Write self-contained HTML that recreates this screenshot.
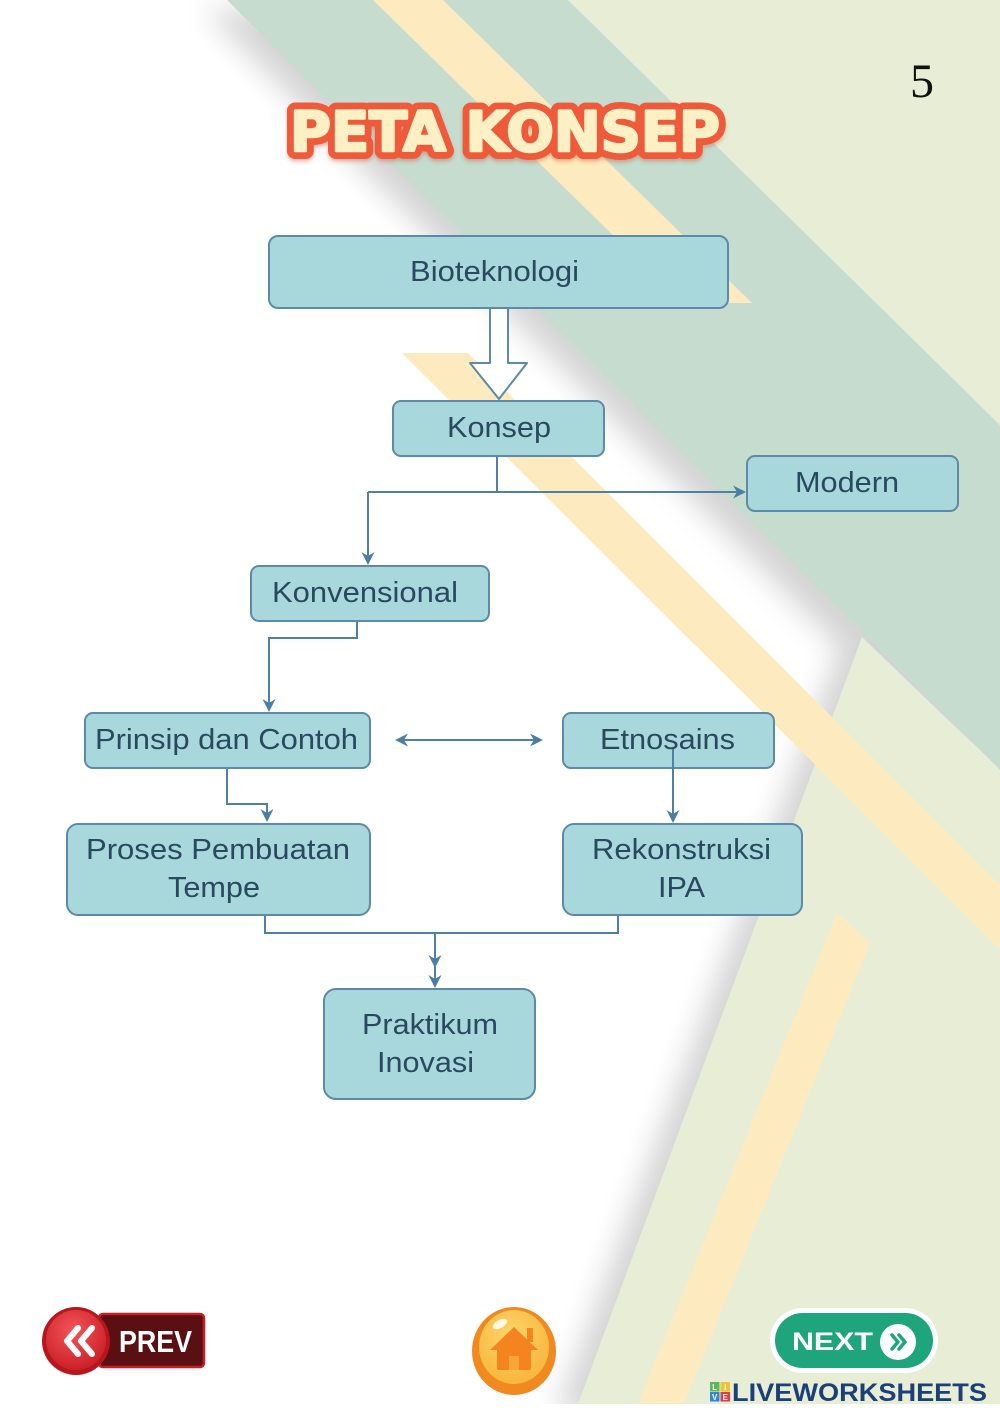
<!DOCTYPE html>
<html><head><meta charset="utf-8"><style>
html,body{margin:0;padding:0;background:#fff;}
svg{display:block;}
</style></head><body>
<svg width="1000" height="1415" viewBox="0 0 1000 1415" xmlns="http://www.w3.org/2000/svg">
<defs>
<filter id="blur" x="-20%" y="-20%" width="140%" height="140%"><feGaussianBlur stdDeviation="14"/></filter>
<filter id="tblur" x="-10%" y="-30%" width="120%" height="160%"><feGaussianBlur stdDeviation="2"/></filter>
<marker id="ar" viewBox="0 0 13 13" refX="10" refY="6.5" markerWidth="13" markerHeight="13" markerUnits="userSpaceOnUse" orient="auto-start-reverse">
<path d="M0,0 L13,6.5 L0,13 L4,6.5 Z" fill="#4a7ea6"/>
</marker>
<radialGradient id="redg" cx="0.45" cy="0.35" r="0.7"><stop offset="0" stop-color="#f2555a"/><stop offset="1" stop-color="#c81d24"/></radialGradient>
<radialGradient id="yelg" cx="0.45" cy="0.35" r="0.7"><stop offset="0" stop-color="#fdd56a"/><stop offset="1" stop-color="#f7b43a"/></radialGradient>
</defs>

<!-- background -->
<rect x="0" y="0" width="1000" height="1415" fill="#ffffff"/>
<g filter="url(#blur)" opacity="0.32">
<polygon points="227,0 1000,0 1000,1404 578,1404 862,637" transform="translate(-22,10)" fill="#7a7a7a"/>
</g>
<polygon points="227,0 568,0 1000,425 1000,770" fill="#c5dccf"/>
<polygon points="568,0 1000,0 1000,425" fill="#e7eed5"/>
<polygon points="862,637 1000,770 1000,1404 578,1404" fill="#e7eed5"/>
<polygon points="373,0 443,0 752,303 682,303" fill="#fdebbf"/>
<polygon points="402,353 468,353 1000,885 1000,949" fill="#fdebbf"/>
<polygon points="837,913 870,943 684,1404 638,1404" fill="#fdebbf"/>
<rect x="0" y="1404" width="1000" height="11" fill="#ffffff"/>

<!-- page number -->
<text x="922" y="97" font-family="Liberation Serif, serif" font-size="48" text-anchor="middle" fill="#111">5</text>

<!-- title -->
<text x="290" y="154" font-family="DejaVu Sans, Liberation Sans, sans-serif" font-weight="bold" font-size="55" textLength="430" lengthAdjust="spacingAndGlyphs" fill="#b8391f" stroke="#b8391f" stroke-width="15" stroke-linejoin="round" opacity="0.35" filter="url(#tblur)">PETA KONSEP</text>
<text x="290" y="151" font-family="DejaVu Sans, Liberation Sans, sans-serif" font-weight="bold" font-size="55" textLength="430" lengthAdjust="spacingAndGlyphs" fill="#ee5a3a" stroke="#ee5a3a" stroke-width="16" stroke-linejoin="round">PETA KONSEP</text>
<text x="290" y="151" font-family="DejaVu Sans, Liberation Sans, sans-serif" font-weight="bold" font-size="55" textLength="430" lengthAdjust="spacingAndGlyphs" fill="#fdf0c4" stroke="#fdf0c4" stroke-width="2.5" stroke-linejoin="round">PETA KONSEP</text>

<!-- connectors -->
<g fill="none" stroke="#4f81a6" stroke-width="2">
<path d="M497,456 V492"/>
<path d="M368,492 H743" marker-end="url(#ar)"/>
<path d="M368,492 V562" marker-end="url(#ar)"/>
<path d="M357,621 V638 H269 V709" marker-end="url(#ar)"/>
<path d="M398,740 H540" marker-start="url(#ar)" marker-end="url(#ar)"/>
<path d="M227,768 V804 H267 V819" marker-end="url(#ar)"/>
<path d="M673,749 V820" marker-end="url(#ar)"/>
<path d="M265,915 V933 H618 V915"/>
<path d="M435,933 V965" marker-end="url(#ar)"/>
<path d="M435,960 V985" marker-end="url(#ar)"/>
</g>

<!-- boxes -->
<g fill="#a9d8dc" stroke="#5d8aa8" stroke-width="2">
<rect x="269" y="236" width="459" height="72" rx="9"/>
<rect x="393" y="401" width="211" height="55" rx="8"/>
<rect x="747" y="456" width="211" height="55" rx="8"/>
<rect x="251" y="566" width="238" height="55" rx="8"/>
<rect x="85" y="713" width="285" height="55" rx="8"/>
<rect x="563" y="713" width="211" height="55" rx="8"/>
<rect x="67" y="824" width="303" height="91" rx="11"/>
<rect x="563" y="824" width="239" height="91" rx="11"/>
<rect x="324" y="989" width="211" height="110" rx="12"/>
</g>
<!-- Etnosains line drawn over box -->
<path d="M673,749 V800" stroke="#4f81a6" stroke-width="2" fill="none"/>

<!-- block arrow -->
<polygon points="490,308 508,308 508,363 527,363 499,399 470,363 490,363" fill="#ffffff" stroke="#5d8aa8" stroke-width="2" stroke-linejoin="round"/>

<g font-family="Liberation Sans, Arial, sans-serif" font-size="29" fill="#2a4860">
<text x="410" y="281" textLength="169" lengthAdjust="spacingAndGlyphs">Bioteknologi</text>
<text x="447" y="437" textLength="104" lengthAdjust="spacingAndGlyphs">Konsep</text>
<text x="795" y="492" textLength="104" lengthAdjust="spacingAndGlyphs">Modern</text>
<text x="272" y="602" textLength="186" lengthAdjust="spacingAndGlyphs">Konvensional</text>
<text x="95" y="749" textLength="263" lengthAdjust="spacingAndGlyphs">Prinsip dan Contoh</text>
<text x="600" y="749" textLength="135" lengthAdjust="spacingAndGlyphs">Etnosains</text>
<text x="86" y="859" textLength="264" lengthAdjust="spacingAndGlyphs">Proses Pembuatan</text>
<text x="168" y="897" textLength="92" lengthAdjust="spacingAndGlyphs">Tempe</text>
<text x="592" y="859" textLength="179" lengthAdjust="spacingAndGlyphs">Rekonstruksi</text>
<text x="658" y="897" textLength="47" lengthAdjust="spacingAndGlyphs">IPA</text>
<text x="362" y="1034" textLength="136" lengthAdjust="spacingAndGlyphs">Praktikum</text>
<text x="377" y="1072" textLength="97" lengthAdjust="spacingAndGlyphs">Inovasi</text>
</g>

<!-- PREV button -->
<rect x="99" y="1314" width="105" height="53" rx="4" fill="#5a0f12" stroke="#c81e24" stroke-width="2.5"/>
<circle cx="76" cy="1341" r="34" fill="#b8161d"/>
<circle cx="76" cy="1340" r="30" fill="url(#redg)"/>
<g fill="none" stroke="#ffffff" stroke-width="6" stroke-linecap="round" stroke-linejoin="round">
<polyline points="78,1328 67,1341 78,1354"/>
<polyline points="92,1328 81,1341 92,1354"/>
</g>
<text x="119" y="1352" font-family="Liberation Sans, Arial, sans-serif" font-weight="bold" font-size="31" fill="#ffffff" textLength="73" lengthAdjust="spacingAndGlyphs">PREV</text>

<!-- Home button -->
<ellipse cx="514" cy="1351" rx="42" ry="44" fill="#f08a20"/>
<ellipse cx="514" cy="1347" rx="35" ry="37" fill="url(#yelg)"/>
<ellipse cx="500" cy="1324" rx="8" ry="4" fill="#ffffff" opacity="0.85" transform="rotate(-30 500 1324)"/>
<g fill="#f5831f">
<polygon points="490,1350 514,1327 538,1350"/>
<rect x="527" y="1328" width="6" height="14"/>
<rect x="497" y="1346" width="34" height="24" rx="2"/>
</g>
<rect x="509" y="1356" width="10" height="14" fill="#f8a637"/>

<!-- NEXT button -->
<rect x="770" y="1308" width="168" height="65" rx="32.5" fill="#ffffff"/>
<rect x="775" y="1313" width="158" height="55" rx="27.5" fill="#1fa57b"/>
<text x="792" y="1350" font-family="Liberation Sans, Arial, sans-serif" font-weight="bold" font-size="25" fill="#ffffff" textLength="81" lengthAdjust="spacingAndGlyphs">NEXT</text>
<circle cx="898" cy="1342" r="18" fill="#ffffff"/>
<g fill="none" stroke="#1fa57b" stroke-width="3.5" stroke-linecap="round" stroke-linejoin="round">
<polyline points="892,1335 898,1342 892,1349"/>
<polyline points="899,1335 905,1342 899,1349"/>
</g>

<!-- LIVEWORKSHEETS logo -->
<rect x="710" y="1382" width="9.5" height="9.5" fill="#5cb85c"/>
<rect x="720.5" y="1382" width="9.5" height="9.5" fill="#f2c230"/>
<rect x="710" y="1392" width="9.5" height="9.5" fill="#2e86de"/>
<rect x="720.5" y="1392" width="9.5" height="9.5" fill="#e53946"/>
<g font-family="Liberation Sans, Arial, sans-serif" font-weight="bold" font-size="8" fill="#ffffff" text-anchor="middle">
<text x="714.7" y="1390">L</text><text x="725.2" y="1390">I</text>
<text x="714.7" y="1400">V</text><text x="725.2" y="1400">E</text>
</g>
<text x="732" y="1401" font-family="Liberation Sans, Arial, sans-serif" font-weight="bold" font-size="25" fill="#1b3f78" textLength="255" lengthAdjust="spacingAndGlyphs">LIVEWORKSHEETS</text>
</svg>
</body></html>
